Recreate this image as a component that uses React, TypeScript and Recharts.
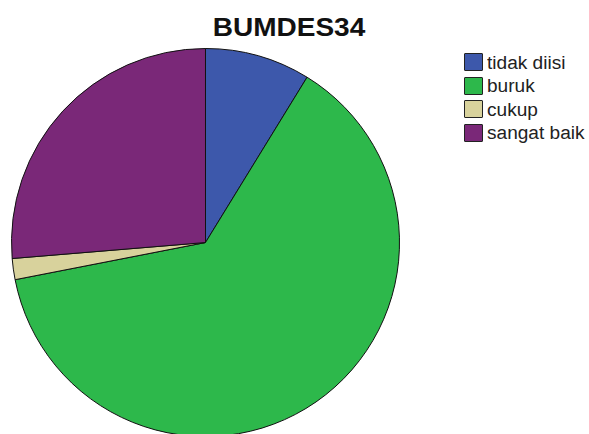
import React from "react";
import { PieChart, Pie, Cell, Legend } from "recharts";

const categories = ["tidak diisi", "buruk", "cukup", "sangat baik"];
const counts = [5, 36, 1, 15];
const colors = ["#3d58ab", "#2db84b", "#d8d29c", "#7a2878"];
const title = "BUMDES34";

const data = categories.map((name, i) => ({ name, value: counts[i] }));

const LegendContent = () => {
  return (
    <div style={{ position: "relative", width: 589, height: 434, pointerEvents: "none" }}>
      {categories.map((label, i) => {
        const top = 53 + i * 23.5;
        return (
          <React.Fragment key={label}>
            <div
              style={{
                position: "absolute",
                left: 464,
                top,
                width: 17,
                height: 16,
                background: colors[i],
                border: "1px solid #222",
                borderRadius: 1,
              }}
            />
            <span
              style={{
                position: "absolute",
                left: 487,
                top: top + 0.5,
                fontFamily: "Liberation Sans, Arial, sans-serif",
                fontSize: 18,
                lineHeight: "18px",
                color: "#222",
                whiteSpace: "nowrap",
                transform: "scaleX(1.06)",
                transformOrigin: "left center",
              }}
            >
              {label}
            </span>
          </React.Fragment>
        );
      })}
    </div>
  );
};

export default function App() {
  return (
    <div style={{ position: "absolute", left: 0, top: 0, width: 589, height: 434, background: "#fff", overflow: "hidden" }}>
      <div
        style={{
          position: "absolute",
          left: 0,
          width: 578,
          top: 14.5,
          textAlign: "center",
          fontFamily: "Liberation Sans, Arial, sans-serif",
          fontWeight: "bold",
          fontSize: 25,
          lineHeight: "25px",
          color: "#111",
          transform: "scaleX(1.12)",
          transformOrigin: "289px center",
        }}
      >
        {title}
      </div>
      <PieChart
        width={589}
        height={434}
        margin={{ top: 0, right: 0, bottom: 0, left: 0 }}
        style={{ position: "absolute", left: 0, top: 0 }}
      >
        <Pie
          data={data}
          dataKey="value"
          nameKey="name"
          cx={205.5}
          cy={242.5}
          outerRadius={194}
          startAngle={90}
          endAngle={-270}
          stroke="#111"
          strokeWidth={1}
          isAnimationActive={false}
        >
          {data.map((d, i) => (
            <Cell key={d.name} fill={colors[i]} />
          ))}
        </Pie>
        <Legend
          content={<LegendContent />}
          wrapperStyle={{ position: "absolute", left: 0, top: 0, width: 589, height: 434 }}
        />
      </PieChart>
    </div>
  );
}
